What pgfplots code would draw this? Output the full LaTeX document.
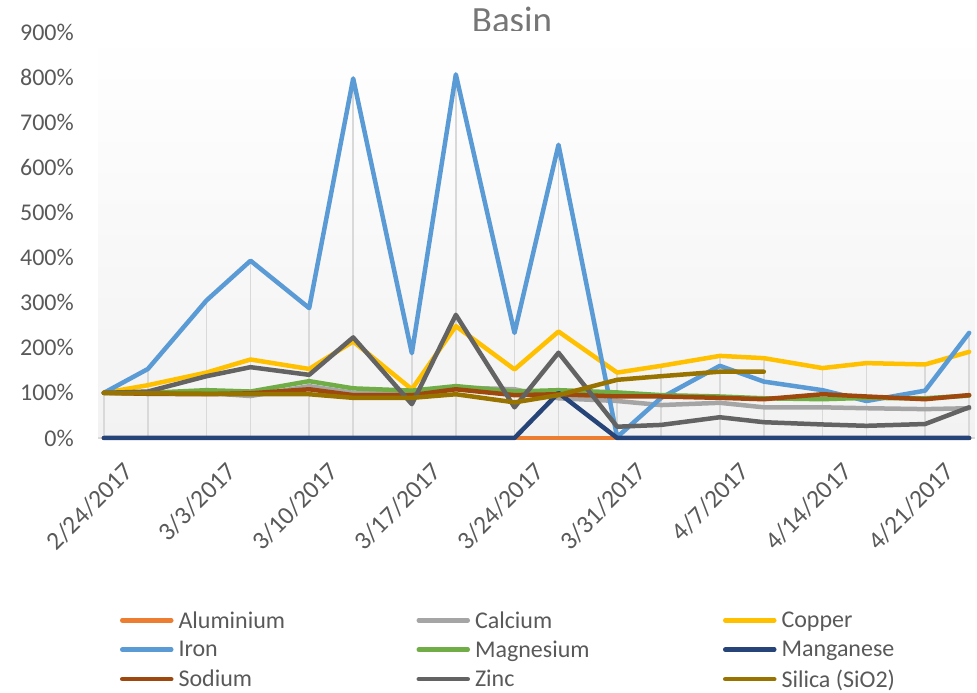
\documentclass[border=0pt]{standalone}
\usepackage{fontspec}
\setmainfont{Carlito}
\usepackage{pgfplots}
\pgfplotsset{compat=1.18}
\usepackage{pgfplotstable}
\definecolor{txt}{HTML}{595959}
\definecolor{ttl}{HTML}{767676}
\definecolor{grd}{HTML}{D9D9D9}
\definecolor{bgb}{HTML}{F2F2F2}
\definecolor{cal}{HTML}{ED7D31}
\definecolor{cca}{HTML}{A5A5A5}
\definecolor{ccu}{HTML}{FFC000}
\definecolor{cfe}{HTML}{5B9BD5}
\definecolor{cmg}{HTML}{70AD47}
\definecolor{cmn}{HTML}{264478}
\definecolor{cna}{HTML}{9E480E}
\definecolor{czn}{HTML}{636363}
\definecolor{csi}{HTML}{997300}
\pgfplotstableread{
day Al Ca Cu Fe Mg Mn Na Zn Si mx
0 0 100 100 100 100 0 100 100 100 100
3 0 100 117 153 100 0 98 103 99 153
7 0 100 145 305 106 0 97 137 98 305
10 0 93 174 393 103 0 99 157 97 393
14 0 115 153 288 126 0 108 140 97 288
17 0 100 214 797 110 0 95 223 89 797
21 0 100 108 188 105 0 95 75 89 188
24 0 112 248 806 115 0 108 273 97 806
28 0 108 152 233 103 0 95 68 79 233
31 0 88 236 650 106 100 97 189 95 650
35 0 82 145 2 101 0 92 25 129 145
38 0 73 160 89 95 0 92 29 137 160
42 0 78 182 160 92 0 89 46 147 182
45 0 68 177 125 88 0 86 35 147 177
49 0 68 155 106 86 0 97 30 nan 155
52 0 66 166 82 89 0 92 27 nan 166
56 0 64 163 105 88 0 86 31 nan 163
59 0 66 191 233 94 0 95 68 nan 233
}\data
\begin{document}
\begin{tikzpicture}[x=1pt,y=1pt]
\path[use as bounding box] (0,0) rectangle (977,693);
\node[font=\fontsize{37}{44}\selectfont, text=ttl, anchor=base] at (512,660) {Basin};
\begin{axis}[
  at={(98pt,255pt)}, anchor=south west, scale only axis,
  width=877pt, height=406pt,
  xmin=-0.4, xmax=59.4, ymin=0, ymax=900,
  axis x line*=bottom, axis y line*=left,
  x axis line style={draw=grd, line width=1.5pt, -},
  y axis line style={draw=none},
  major tick length=0pt,
  axis background/.style={shade, top color=white, bottom color=bgb},
  ytick={0,100,...,900},
  yticklabels={0\%,100\%,200\%,300\%,400\%,500\%,600\%,700\%,800\%,900\%},
  yticklabel style={font=\fontsize{24}{29}\selectfont, text=txt, anchor=east, inner sep=0pt, xshift=-24pt},
  xtick={0,7,14,21,28,35,42,49,56},
  xticklabels={2/24/2017,3/3/2017,3/10/2017,3/17/2017,3/24/2017,3/31/2017,4/7/2017,4/14/2017,4/21/2017},
  xticklabel style={font=\fontsize{25.5}{30}\selectfont, text=txt, rotate=45, anchor=north east, inner sep=0pt, xshift=-3pt, yshift=-29pt},
  clip=false,
  every axis plot/.append style={line width=4.5pt, line join=round, line cap=round},
  legend columns=3,
  legend cell align=left,
  legend image code/.code={\draw[#1, line width=4.5pt, line cap=round] (2.5pt,0pt) -- (51.5pt,0pt);},
  legend style={draw=none, fill=none, at={(0.0251,-0.427)}, anchor=north west,
     font=\fontsize{24}{29}\selectfont, text=txt, inner sep=0pt, outer sep=0pt,
     row sep=11pt, nodes={inner sep=0pt},
     /tikz/every odd column/.append style={column sep=5pt}},
]
\addplot[ycomb, draw=grd, line width=1.8pt, line cap=butt, forget plot] table[x=day,y=mx]{\data};
\addplot[cal] table[x=day,y=Al]{\data};
\addlegendentry{\makebox[238pt][l]{Aluminium}}
\addplot[cca] table[x=day,y=Ca]{\data};
\addlegendentry{\makebox[248pt][l]{Calcium}}
\addplot[ccu] table[x=day,y=Cu]{\data};
\addlegendentry{Copper}
\addplot[cfe] table[x=day,y=Fe]{\data};
\addlegendentry{\makebox[238pt][l]{Iron}}
\addplot[cmg] table[x=day,y=Mg]{\data};
\addlegendentry{\makebox[248pt][l]{Magnesium}}
\addplot[cmn] table[x=day,y=Mn]{\data};
\addlegendentry{Manganese}
\addplot[cna] table[x=day,y=Na]{\data};
\addlegendentry{\makebox[238pt][l]{Sodium}}
\addplot[czn] table[x=day,y=Zn]{\data};
\addlegendentry{\makebox[248pt][l]{Zinc}}
\addplot[csi] table[x=day,y=Si]{\data};
\addlegendentry{Silica (SiO2)}
\end{axis}
\end{tikzpicture}
\end{document}
